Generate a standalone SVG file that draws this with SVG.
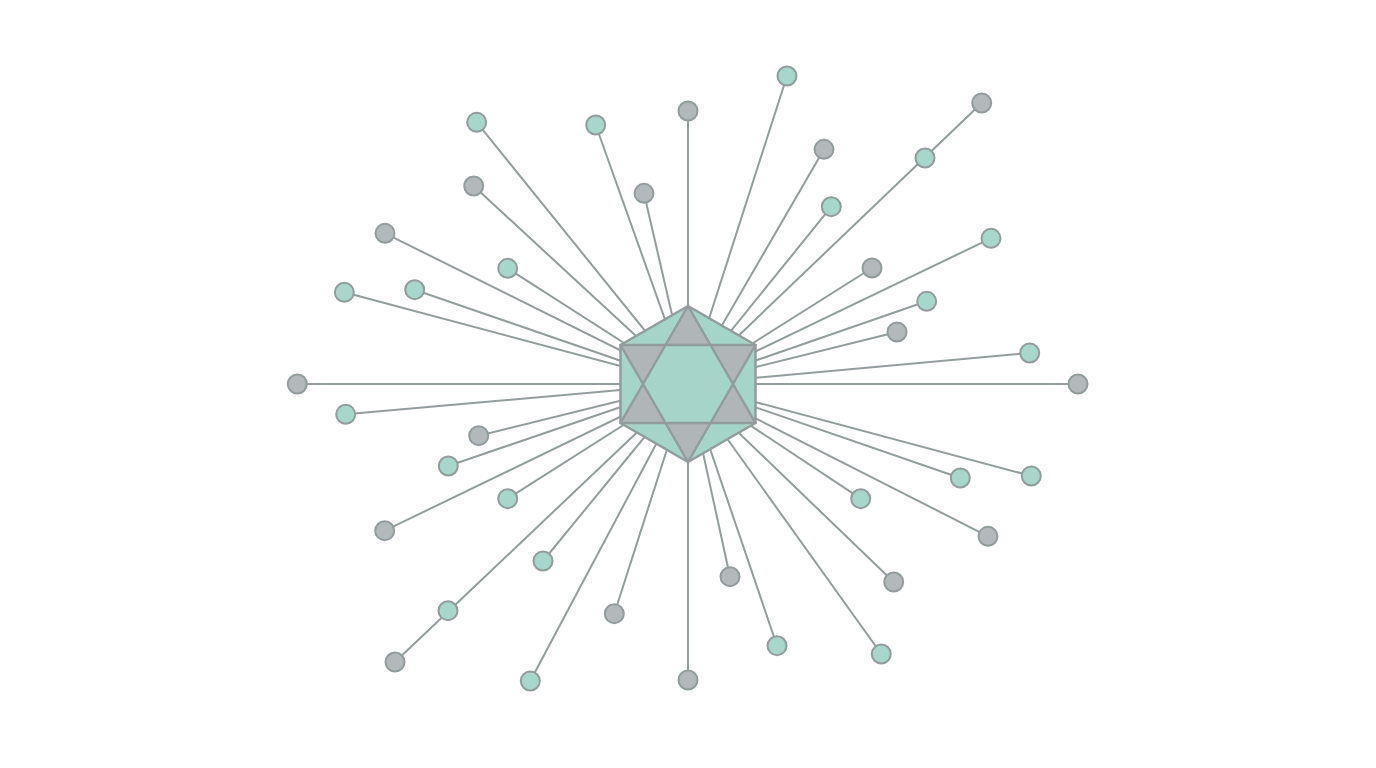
<svg xmlns="http://www.w3.org/2000/svg" width="1376" height="768" viewBox="0 0 1376 768">
<style>
.c{stroke:#949d9d;stroke-width:2;fill:none}
.t{fill:#a7d6cb;stroke:#939c9c;stroke-width:2}
.g{fill:#b3b8bb;stroke:#939c9c;stroke-width:2}
.hx{fill:#a5d4c9}
.st{fill:#b0b5b8}
.ol{fill:none;stroke:#939c9c;stroke-width:2.5;stroke-linejoin:round}
</style>
<rect width="1376" height="768" fill="#ffffff"/>
<g id="connectors">
<path class="c" d="M688 384L476.7 122.3M688 384L595.7 125M688 384L688 111M688 384L473.7 186M688 384L644 193.3M688 384L385 233.3M688 384L507.7 268.3M688 384L344.3 292.3M688 384L414.7 289.7M688 384L297.3 384M688 384L787 76M688 384L981.7 103M688 384L824 149.3M688 384L831.3 206.7M688 384L991 238.3M688 384L872 268M688 384L926.7 301.3M688 384L897 332M688 384L1029.7 353M688 384L1078 384M688 384L1031.3 476M688 384L960.3 478M688 384L860.7 498.7M688 384L988 536.3M688 384L893.7 582M688 384L730 576.7M688 384L777 645.7M688 384L881.3 654M688 384L688 680M688 384L345.7 414.3M688 384L478.7 435.7M688 384L448.3 466M688 384L507.7 498.7M688 384L384.7 530.7M688 384L543 561M688 384L395 662M688 384L530.3 681M688 384L614.3 613.7"/>
</g>
<g id="hub">
<polygon class="hx" points="688,306 755.5,345 755.5,423 688,462 620.5,423 620.5,345"/>
<polygon class="st" points="688,306 665.5,345 710.5,345"/>
<polygon class="st" points="688,462 665.5,423 710.5,423"/>
<polygon class="st" points="620.5,345 665.5,345 643,384"/>
<polygon class="st" points="620.5,423 665.5,423 643,384"/>
<polygon class="st" points="755.5,345 710.5,345 733,384"/>
<polygon class="st" points="755.5,423 710.5,423 733,384"/>
<polygon class="ol" points="688,306 755.5,345 755.5,423 688,462 620.5,423 620.5,345"/>
<polygon class="ol" points="688,306 620.5,423 755.5,423"/>
<polygon class="ol" points="688,462 620.5,345 755.5,345"/>
</g>
<g id="n1"><circle class="t" cx="476.7" cy="122.3" r="9.5"/></g>
<g id="n2"><circle class="t" cx="595.7" cy="125" r="9.5"/></g>
<g id="n3"><circle class="g" cx="688" cy="111" r="9.5"/></g>
<g id="n4"><circle class="g" cx="473.7" cy="186" r="9.5"/></g>
<g id="n5"><circle class="g" cx="644" cy="193.3" r="9.5"/></g>
<g id="n6"><circle class="g" cx="385" cy="233.3" r="9.5"/></g>
<g id="n7"><circle class="t" cx="507.7" cy="268.3" r="9.5"/></g>
<g id="n8"><circle class="t" cx="344.3" cy="292.3" r="9.5"/></g>
<g id="n9"><circle class="t" cx="414.7" cy="289.7" r="9.5"/></g>
<g id="n10"><circle class="g" cx="297.3" cy="384" r="9.5"/></g>
<g id="n11"><circle class="t" cx="787" cy="76" r="9.5"/></g>
<g id="n12"><circle class="g" cx="981.7" cy="103" r="9.5"/></g>
<g id="n13"><circle class="t" cx="925" cy="158" r="9.5"/></g>
<g id="n14"><circle class="g" cx="824" cy="149.3" r="9.5"/></g>
<g id="n15"><circle class="t" cx="831.3" cy="206.7" r="9.5"/></g>
<g id="n16"><circle class="t" cx="991" cy="238.3" r="9.5"/></g>
<g id="n17"><circle class="g" cx="872" cy="268" r="9.5"/></g>
<g id="n18"><circle class="t" cx="926.7" cy="301.3" r="9.5"/></g>
<g id="n19"><circle class="g" cx="897" cy="332" r="9.5"/></g>
<g id="n20"><circle class="t" cx="1029.7" cy="353" r="9.5"/></g>
<g id="n21"><circle class="g" cx="1078" cy="384" r="9.5"/></g>
<g id="n22"><circle class="t" cx="1031.3" cy="476" r="9.5"/></g>
<g id="n23"><circle class="t" cx="960.3" cy="478" r="9.5"/></g>
<g id="n24"><circle class="t" cx="860.7" cy="498.7" r="9.5"/></g>
<g id="n25"><circle class="g" cx="988" cy="536.3" r="9.5"/></g>
<g id="n26"><circle class="g" cx="893.7" cy="582" r="9.5"/></g>
<g id="n27"><circle class="g" cx="730" cy="576.7" r="9.5"/></g>
<g id="n28"><circle class="t" cx="777" cy="645.7" r="9.5"/></g>
<g id="n29"><circle class="t" cx="881.3" cy="654" r="9.5"/></g>
<g id="n30"><circle class="g" cx="688" cy="680" r="9.5"/></g>
<g id="n31"><circle class="t" cx="345.7" cy="414.3" r="9.5"/></g>
<g id="n32"><circle class="g" cx="478.7" cy="435.7" r="9.5"/></g>
<g id="n33"><circle class="t" cx="448.3" cy="466" r="9.5"/></g>
<g id="n34"><circle class="t" cx="507.7" cy="498.7" r="9.5"/></g>
<g id="n35"><circle class="g" cx="384.7" cy="530.7" r="9.5"/></g>
<g id="n36"><circle class="t" cx="543" cy="561" r="9.5"/></g>
<g id="n37"><circle class="t" cx="448" cy="610.7" r="9.5"/></g>
<g id="n38"><circle class="g" cx="395" cy="662" r="9.5"/></g>
<g id="n39"><circle class="t" cx="530.3" cy="681" r="9.5"/></g>
<g id="n40"><circle class="g" cx="614.3" cy="613.7" r="9.5"/></g>
</svg>
